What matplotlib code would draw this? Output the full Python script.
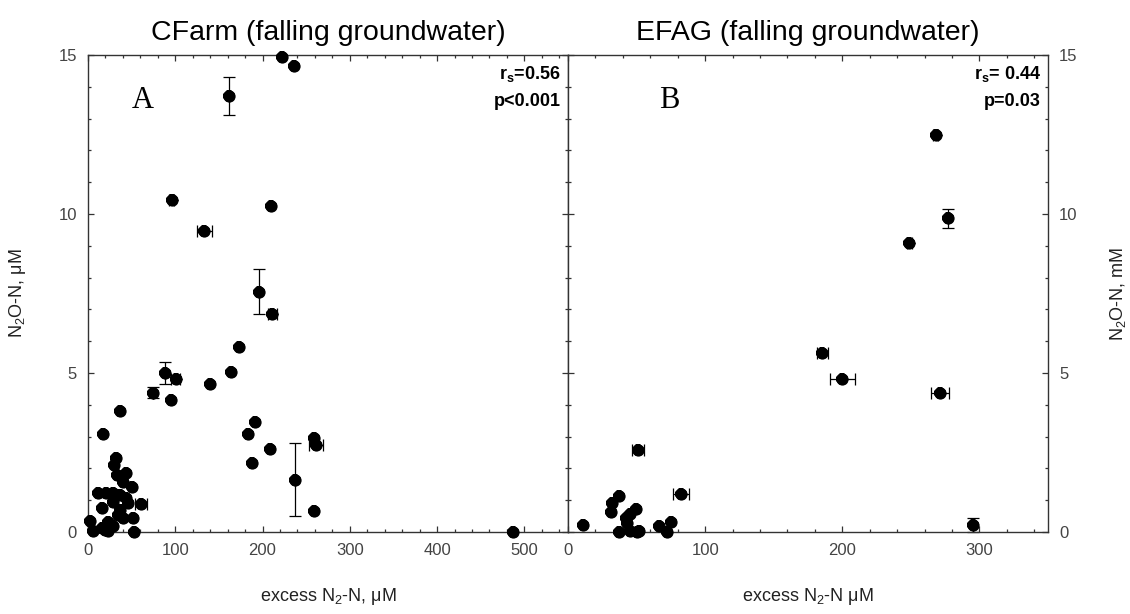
import matplotlib
matplotlib.use("Agg")
import matplotlib.pyplot as plt
from matplotlib.ticker import MultipleLocator
import numpy as np

plt.rcParams['font.family'] = ['Liberation Sans', 'DejaVu Sans']
plt.rcParams['mathtext.default'] = 'regular'

# ---------------- Panel A: CFarm ----------------
a_x = [222, 236.6, 162, 96, 210, 133, 195.5, 211, 173, 163.5, 88, 100.5, 74, 95,
       139.5, 36.5, 17.5, 191, 183, 209, 187.5, 237, 259.5, 261.5, 259.5, 487,
       32, 30, 33, 43.5, 40.5, 50, 12, 21, 29, 36.5, 44, 29, 46, 61, 15.5, 34.5,
       40.5, 52, 2.5, 29, 6, 15.5, 23, 53, 23, 36.5, 20]
a_y = [14.94, 14.65, 13.72, 10.45, 10.25, 9.47, 7.56, 6.85, 5.83, 5.02, 5.0, 4.8,
       4.38, 4.16, 4.65, 3.8, 3.07, 3.46, 3.08, 2.6, 2.18, 1.65, 2.97, 2.74, 0.66,
       0.0, 2.32, 2.1, 1.79, 1.85, 1.58, 1.4, 1.22, 1.24, 1.22, 1.16, 1.06, 0.95,
       0.9, 0.88, 0.75, 0.53, 0.43, 0.43, 0.35, 0.19, 0.04, 0.12, 0.02, 0.0, 0.33,
       0.7, 0.05]
a_xerr = [0, 0, 0, 3, 0, 8.6, 0, 5, 0, 0, 0, 5, 0, 0,
          0, 0, 0, 0, 0, 0, 0, 0, 0, 8, 0, 0,
          0, 0, 0, 0, 0, 0, 0, 0, 0, 0, 0, 0, 0, 6.7, 0, 0,
          0, 0, 0, 0, 0, 0, 0, 0, 0, 0, 0]
a_yerr = [0, 0, 0.6, 0, 0, 0, 0.72, 0, 0, 0, 0.34, 0, 0.18, 0,
          0, 0, 0, 0, 0, 0, 0, 1.15, 0, 0, 0, 0,
          0, 0, 0, 0, 0, 0, 0, 0, 0, 0, 0, 0, 0, 0, 0, 0,
          0, 0, 0, 0, 0, 0, 0, 0, 0, 0, 0]

# ---------------- Panel B: EFAG ----------------
b_x = [268, 277, 249, 185.5, 200, 271, 295.5, 51, 82.5, 10.7, 37.5, 32, 31, 49.5,
       45.5, 42.5, 43, 37.5, 45.5, 52, 50, 66.5, 75, 72.5]
b_y = [12.48, 9.86, 9.08, 5.62, 4.8, 4.38, 0.22, 2.58, 1.2, 0.22, 1.14, 0.9, 0.64,
       0.72, 0.58, 0.43, 0.27, 0.0, 0.02, 0.04, 0.0, 0.19, 0.32, 0.0]
b_xerr = [2, 0, 2, 4, 9, 6.6, 0, 4.4, 6, 0, 0, 0, 0, 0,
          0, 0, 0, 0, 0, 0, 0, 0, 0, 0]
b_yerr = [0, 0.3, 0, 0, 0, 0, 0.22, 0, 0, 0, 0, 0, 0, 0,
          0, 0, 0, 0, 0, 0, 0, 0, 0, 0]

titles = ["CFarm (falling groundwater)", "EFAG (falling groundwater)"]
panel_letters = ["A", "B"]
stats = [("r$_s$=0.56", "p<0.001"), ("r$_s$= 0.44", "p=0.03")]
xlabels = ["excess N$_2$-N, μM", "excess N$_2$-N μM"]
ylabels = ["N$_2$O-N, μM", "N$_2$O-N, mM"]

W, H = 1130, 614
fig = plt.figure(figsize=(W / 100, H / 100), dpi=100)
axA = fig.add_axes([88 / W, 1 - 532 / H, 480 / W, 477 / H])
axB = fig.add_axes([568 / W, 1 - 532 / H, 480 / W, 477 / H])

spine_col = '#333333'
tick_font = ['Liberation Sans Narrow', 'Liberation Sans', 'DejaVu Sans']

def style(ax, xmax, labelright):
    ax.set_xlim(0, xmax)
    ax.set_ylim(0, 15)
    ax.xaxis.set_major_locator(MultipleLocator(100))
    ax.xaxis.set_minor_locator(MultipleLocator(20))
    ax.yaxis.set_major_locator(MultipleLocator(5))
    ax.yaxis.set_minor_locator(MultipleLocator(1))
    for s in ax.spines.values():
        s.set_color(spine_col)
        s.set_linewidth(1.0)
    ax.tick_params(which='both', direction='in', top=True, bottom=True,
                   left=True, right=True, color=spine_col, width=0.9)
    ax.tick_params(which='major', length=4.5)
    ax.tick_params(which='minor', length=2.5)
    ax.tick_params(axis='both', which='major', labelsize=12, labelcolor='#444444',
                   pad=8, labelfontfamily=tick_font)
    if labelright:
        ax.tick_params(axis='y', labelleft=False, labelright=True)
    ax.set_xticks(np.arange(0, xmax + 1, 100))

def draw(ax, xs, ys, xe, ye):
    xs = np.asarray(xs, float); ys = np.asarray(ys, float)
    xe = np.asarray(xe, float); ye = np.asarray(ye, float)
    m = (xe > 0) | (ye > 0)
    ax.errorbar(xs[m], ys[m], xerr=xe[m], yerr=ye[m], fmt='none', ecolor='black',
                elinewidth=0.9, capsize=4, capthick=0.9, clip_on=False, zorder=2)
    ax.plot(xs, ys, 'o', color='black', markersize=8, markeredgecolor='black',
            markeredgewidth=0.8, clip_on=False, zorder=3)
    ax.plot(xs, ys, '8', color='black', markersize=9, markeredgewidth=0,
            clip_on=False, zorder=3)

style(axA, 550, False)
style(axB, 350, True)
draw(axA, a_x, a_y, a_xerr, a_yerr)
draw(axB, b_x, b_y, b_xerr, b_yerr)

for ax, t, L, st, xl in zip([axA, axB], titles, panel_letters, stats, xlabels):
    ax.set_title(t, fontsize=20.5, pad=11)
    ax.text(0.115 if L == "A" else 0.21, 0.905, L, transform=ax.transAxes,
            fontsize=22, family=['Liberation Serif', 'DejaVu Serif'],
            ha='center', va='center')
    ax.text(0.985, 0.96, st[0], transform=ax.transAxes, fontsize=13,
            fontweight='bold', ha='right', va='center')
    ax.text(0.985, 0.902, st[1], transform=ax.transAxes, fontsize=13,
            fontweight='bold', ha='right', va='center')
    ax.set_xlabel(xl, fontsize=13, labelpad=20, color='#222222')

axA.set_ylabel(ylabels[0], fontsize=13, labelpad=22, color='#222222')
axB.yaxis.set_label_position('right')
axB.set_ylabel(ylabels[1], fontsize=13, labelpad=22, color='#222222')

fig.savefig("out.png", dpi=100)
